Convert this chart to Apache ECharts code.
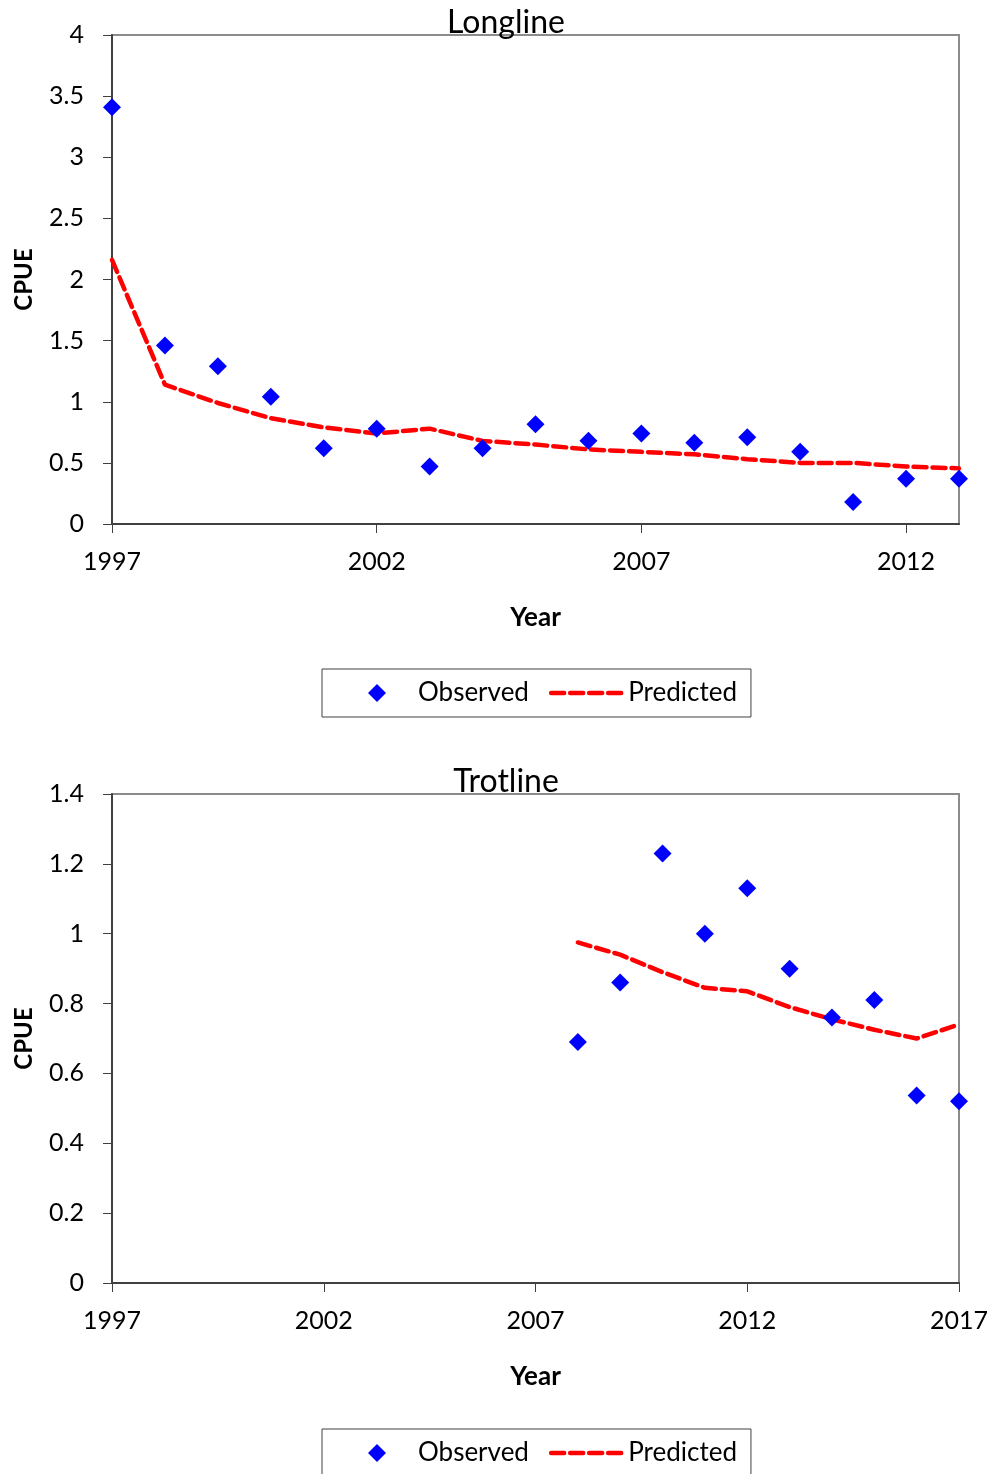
<!DOCTYPE html>
<html>
<head>
<meta charset="utf-8">
<script src="https://cdn.jsdelivr.net/npm/echarts@6/dist/echarts.min.js"></script>
<style>
html,body{margin:0;padding:0;background:#fff;}
#c{width:993px;height:1474px;}
</style>
</head>
<body>
<div id="c"></div>
<script>
// ---- Longline data ----
const years1 = [1997,1998,1999,2000,2001,2002,2003,2004,2005,2006,2007,2008,2009,2010,2011,2012,2013];
const observed1 = [3.41,1.46,1.29,1.04,0.62,0.78,0.47,0.62,0.815,0.68,0.74,0.665,0.71,0.59,0.18,0.37,0.37];
const predicted1 = [2.16,1.14,0.99,0.865,0.79,0.74,0.78,0.68,0.65,0.61,0.59,0.57,0.53,0.50,0.50,0.47,0.455];
const xTicks1 = [1997,2002,2007,2012];

// ---- Trotline data ----
const years2 = [2008,2009,2010,2011,2012,2013,2014,2015,2016,2017];
const observed2 = [0.69,0.86,1.23,1.00,1.13,0.90,0.76,0.81,0.537,0.52];
const predicted2 = [0.975,0.94,0.89,0.845,0.835,0.79,0.755,0.725,0.70,0.74];
const xTicks2 = [1997,2002,2007,2012,2017];

const titles = ['Longline','Trotline'];
const seriesNames = ['Observed','Predicted'];

const FONT = 'Lato, "Liberation Sans", sans-serif';
const BLUE = '#0000ff', RED = '#ff0000';
const DASH = { color: RED, width: 4.5, type: [13, 6], cap: 'round' };
// legend diamond: invisible corner points keep the diamond square and centred in the 72x18 icon box
const LEGEND_DIAMOND = 'path://M0,0M72,18M36,0L45,9L36,18L27,9Z';
const zip = (xs, ys) => xs.map((x, i) => [x, ys[i]]);

function xAxisCfg(gridIndex, min, max, ticks) {
  return {
    type: 'value', gridIndex, min, max,
    name: 'Year', nameLocation: 'middle', nameGap: 81,
    nameTextStyle: { fontFamily: FONT, fontSize: 26, fontWeight: 'bold', color: '#000' },
    axisLine: { show: true, onZero: false, lineStyle: { color: '#404040', width: 2 } },
    axisTick: { show: true, inside: false, length: 9, customValues: ticks, lineStyle: { color: '#404040', width: 1 } },
    axisLabel: { customValues: ticks, margin: 25, fontFamily: FONT, fontSize: 25, color: '#000',
                 formatter: v => String(v) },
    splitLine: { show: false }
  };
}
function yAxisCfg(gridIndex, max, interval) {
  return {
    type: 'value', gridIndex, min: 0, max, interval,
    name: 'CPUE', nameLocation: 'middle', nameGap: 76, nameRotate: 90,
    nameTextStyle: { fontFamily: FONT, fontSize: 24, fontWeight: 'bold', color: '#000' },
    axisLine: { show: true, lineStyle: { color: '#404040', width: 2 } },
    axisTick: { show: true, inside: false, length: 9, lineStyle: { color: '#404040', width: 1 } },
    axisLabel: { margin: 28, fontFamily: FONT, fontSize: 25, color: '#000' },
    splitLine: { show: false }
  };
}
function scatterCfg(idx, data) {
  return {
    name: seriesNames[0], type: 'scatter', xAxisIndex: idx, yAxisIndex: idx,
    symbol: 'diamond', symbolSize: 18, itemStyle: { color: BLUE, opacity: 1 },
    data, z: 3
  };
}
function lineCfg(idx, data) {
  return {
    name: seriesNames[1], type: 'line', xAxisIndex: idx, yAxisIndex: idx,
    symbol: 'none', showSymbol: false,
    lineStyle: DASH,
    itemStyle: { color: RED },
    data, z: 2
  };
}
function legendCfg(top) {
  return {
    data: [
      { name: seriesNames[0], icon: LEGEND_DIAMOND, itemStyle: { color: BLUE, opacity: 1 } },
      { name: seriesNames[1], itemStyle: { color: RED, opacity: 0 }, lineStyle: DASH }
    ],
    left: 322, top,
    orient: 'horizontal',
    itemWidth: 72, itemHeight: 18, itemGap: 20,
    padding: [11, 14, 11, 19],
    borderColor: '#404040', borderWidth: 1,
    textStyle: { fontFamily: FONT, fontSize: 26, color: '#000' },
    selectedMode: false
  };
}

const option = {
  backgroundColor: '#fff',
  animation: false,
  title: [
    { text: titles[0], left: 506, top: 7, textAlign: 'center', padding: 0,
      textStyle: { fontFamily: FONT, fontSize: 32, fontWeight: 'normal', color: '#000' } },
    { text: titles[1], left: 506, top: 766, textAlign: 'center', padding: 0,
      textStyle: { fontFamily: FONT, fontSize: 32, fontWeight: 'normal', color: '#000' } }
  ],
  grid: [
    { left: 112, top: 35, width: 847, height: 489, show: true, borderColor: '#8c8c8c', borderWidth: 2, backgroundColor: 'transparent' },
    { left: 112, top: 794, width: 847, height: 489, show: true, borderColor: '#8c8c8c', borderWidth: 2, backgroundColor: 'transparent' }
  ],
  xAxis: [ xAxisCfg(0, 1997, 2013, xTicks1), xAxisCfg(1, 1997, 2017, xTicks2) ],
  yAxis: [ yAxisCfg(0, 4, 0.5), yAxisCfg(1, 1.4, 0.2) ],
  legend: [ legendCfg(669), legendCfg(1429) ],
  series: [
    scatterCfg(0, zip(years1, observed1)),
    lineCfg(0, zip(years1, predicted1)),
    scatterCfg(1, zip(years2, observed2)),
    lineCfg(1, zip(years2, predicted2))
  ]
};

const chart = echarts.init(document.getElementById('c'), null, { renderer: 'canvas' });
chart.setOption(option);
</script>
</body>
</html>
